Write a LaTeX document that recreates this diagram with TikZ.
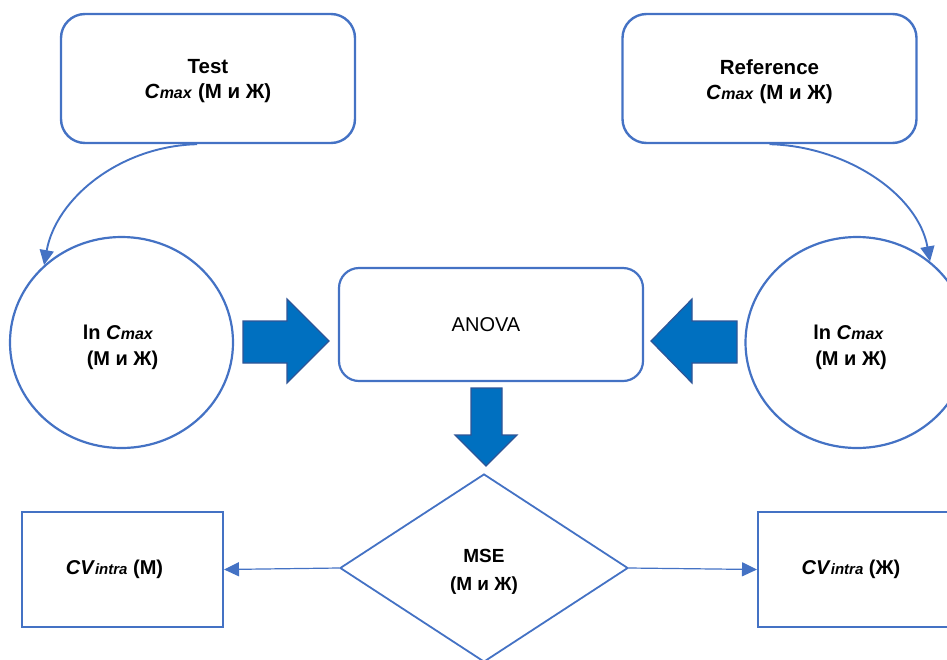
\documentclass[tikz,border=0pt]{standalone}
\usepackage{fontspec}
\setmainfont{Liberation Sans}
\usetikzlibrary{shapes.geometric,arrows.meta}
\definecolor{outl}{HTML}{4472C4}
\definecolor{blkfill}{HTML}{0070C0}
\definecolor{blkedge}{HTML}{2F5597}
\newcommand{\Cmaxtxt}{\textit{C}{\fontsize{16}{16}\selectfont\textit{max}}}
\newcommand{\CVintxt}{\textit{CV}{\fontsize{15}{15}\selectfont\textit{intra}}}
\begin{document}
\begin{tikzpicture}[x=1pt,y=-1pt,
  rbox/.style={draw=outl, line width=2.4pt, rounded corners=24pt, minimum width=294pt, minimum height=129pt, inner sep=0pt, align=center, font=\fontsize{20.5}{25}\selectfont\bfseries},
  abox/.style={draw=outl, line width=2.2pt, rounded corners=20pt, minimum width=304pt, minimum height=113pt, inner sep=0pt, font=\fontsize{20}{25}\selectfont},
  circ/.style={draw=outl, line width=2.2pt, ellipse, minimum width=223pt, minimum height=211pt, inner sep=0pt},
  circtext/.style={align=left, inner sep=0pt, font=\fontsize{20}{26}\selectfont\bfseries},
  dia/.style={draw=outl, line width=1.8pt, diamond, minimum width=288pt, minimum height=188pt, inner sep=0pt, align=center, font=\fontsize{19}{28}\selectfont\bfseries},
  cvbox/.style={draw=outl, line width=2pt, minimum width=201pt, minimum height=115pt, inner sep=0pt, font=\fontsize{20}{25}\selectfont\bfseries},
  curvearrow/.style={draw=outl, line width=1.9pt, -{Triangle[length=15pt,width=14pt]}},
  thinarrow/.style={draw=outl, line width=1.2pt, -{Triangle[length=15pt,width=14pt]}},
  blockarrow/.style={fill=blkfill, draw=blkedge, line width=1.2pt, line join=miter}
]
\useasboundingbox (0,0) rectangle (947,659);
\clip (0,0) rectangle (947,659);

% top boxes
\node[rbox] (tl) at (208,78.5) {};
\node[align=center, inner sep=0pt, font=\fontsize{20.5}{25}\selectfont\bfseries] (tlt) at ([yshift=-3pt]tl.center) {Test\\ \Cmaxtxt\ (М и Ж)};
\node[rbox] (tr) at (769.5,78.5) {};
\node[align=center, inner sep=0pt, font=\fontsize{20.5}{25}\selectfont\bfseries] (trt) at ([yshift=-3pt]tr.center) {Reference\\ \Cmaxtxt\ (М и Ж)};

% circles
\node[circ] (lc) at (121.5,342.5) {};
\node[circtext] (lct) at ([xshift=-1pt,yshift=-5pt]lc.center) {ln \Cmaxtxt\\ \hspace*{4pt}(М и Ж)};
\node[circ] (rc) at (857,342.5) {};
\node[circtext] (rct) at ([xshift=-7pt,yshift=-5pt]rc.center) {ln \Cmaxtxt\\ \hspace*{2pt}(М и Ж)};

% ANOVA
\node[abox] (anova) at (491,324.5) {\hspace*{-10pt}ANOVA};

% diamond
\node[dia] (mse) at (484,568) {};
\node[align=center, inner sep=0pt, font=\fontsize{19}{28}\selectfont\bfseries] (mset) at ([yshift=-4pt]mse.center) {MSE\\ (М и Ж)};

% CV boxes
\node[cvbox] (lcv) at (122.5,569.5) {\CVintxt\ (М)\hspace*{16pt}};
\node[cvbox] (rcv) at (858.5,569.5) {\CVintxt\ (Ж)\hspace*{15pt}};

% curved arrows
\draw[curvearrow] ([xshift=-11pt]tl.south) .. controls +(-77,2) and +(12,-67) .. (lc.135);
\draw[curvearrow] (tr.south) .. controls +(77,2) and +(-12,-67) .. (rc.48);

% block arrows
\filldraw[blockarrow] (243,321) -- (287,321) -- (287,299) -- (329,341) -- (287,383) -- (287,363) -- (243,363) -- cycle;
\filldraw[blockarrow] (737,321) -- (692,321) -- (692,299) -- (651,341) -- (692,383) -- (692,363) -- (737,363) -- cycle;
\filldraw[blockarrow] (471,388) -- (502,388) -- (502,435) -- (517,435) -- (486,466) -- (455,435) -- (471,435) -- cycle;

% thin connectors
\draw[thinarrow] (mse.west) -- (lcv.east);
\draw[thinarrow] (mse.east) -- (rcv.west);
\end{tikzpicture}
\end{document}
